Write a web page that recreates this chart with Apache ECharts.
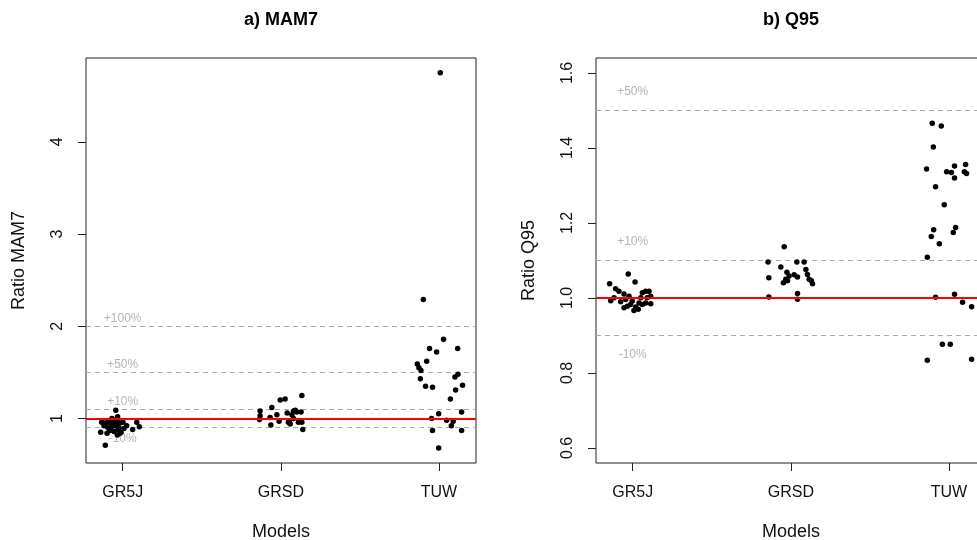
<!DOCTYPE html>
<html>
<head>
<meta charset="utf-8">
<script src="https://cdn.jsdelivr.net/npm/echarts@6/dist/echarts.min.js"></script>
<style>
  html, body { margin: 0; padding: 0; background: #fff; }
  #chart { width: 977px; height: 540px; }
</style>
</head>
<body>
<div id="chart"></div>
<script>
// Models on the horizontal axis
const models = ['GR5J', 'GRSD', 'TUW'];

// Panel a) MAM7 ratios per catchment, with the horizontal jitter of each dot
const mam7GR5J = [1.09, 1.02, 1.00, 0.96, 0.95, 0.96, 0.95, 0.96, 0.97, 0.95, 0.96, 0.92, 0.90, 0.91, 0.92, 0.90,
  0.87, 0.86, 0.88, 0.85, 0.92, 0.96, 0.91, 0.88, 0.85, 0.71, 0.82, 0.84, 0.84, 0.89, 0.99];
const mam7GR5JJitter = [-0.044, -0.032, -0.068, -0.133, -0.112, -0.093, -0.074, -0.055, -0.036, -0.017, 0.002, -0.118,
  -0.093, -0.068, -0.042, -0.023, -0.080, -0.055, -0.030, -0.011, 0.025, 0.089, 0.105, 0.063, -0.139, -0.110, -0.034,
  -0.017, -0.099, 0.008, -0.061];
const mam7GRSD = [1.25, 1.21, 1.20, 1.12, 1.08, 1.03, 0.99, 1.01, 1.04, 0.97, 0.93, 1.08, 1.07, 1.07, 1.04, 0.96,
  0.94, 0.96, 0.96, 0.88, 1.00, 1.06, 1.09, 0.97];
const mam7GRSDJitter = [0.133, 0.027, -0.004, -0.057, -0.131, -0.131, -0.135, -0.068, -0.025, -0.011, -0.063, 0.080,
  0.101, 0.128, 0.070, 0.048, 0.059, 0.111, 0.133, 0.139, 0.080, 0.040, 0.091, 0.053];
const mam7TUW = [2.29, 1.86, 1.76, 1.72, 1.76, 1.62, 1.59, 1.55, 1.52, 1.43, 1.35, 1.34, 1.48, 1.45, 1.36, 1.31,
  1.21, 1.05, 1.00, 1.07, 0.98, 0.97, 0.92, 0.87, 0.87, 0.68, 4.75];
const mam7TUWJitter = [-0.099, 0.029, -0.060, -0.015, 0.118, -0.078, -0.137, -0.127, -0.114, -0.118, -0.085, -0.041,
  0.120, 0.101, 0.149, 0.105, 0.072, -0.002, -0.047, 0.143, 0.048, 0.090, 0.078, -0.041, 0.143, -0.002, 0.008];

// Panel b) Q95 ratios per catchment, with jitter
const q95GR5J = [1.064, 1.038, 1.043, 1.025, 1.018, 0.993, 1.011, 1.005, 0.996, 0.974, 0.978, 0.983, 0.992, 0.976,
  0.970, 1.001, 1.014, 1.018, 1.018, 1.005, 1.001, 0.987, 0.985, 0.983, 0.987, 0.967, 0.990, 1.001];
const q95GR5JJitter = [-0.028, -0.146, 0.015, -0.108, -0.087, -0.139, -0.055, -0.023, -0.044, -0.055, -0.034, -0.013,
  -0.003, 0.019, 0.035, 0.051, 0.061, 0.082, 0.103, 0.114, 0.092, 0.082, 0.114, 0.061, 0.040, 0.008, -0.076, -0.118];
const q95GRSD = [1.137, 1.096, 1.096, 1.096, 1.083, 1.076, 1.054, 1.069, 1.059, 1.062, 1.056, 1.050, 1.041, 1.050,
  1.046, 1.038, 1.063, 1.003, 1.012, 0.997, 1.046];
const q95GRSDJitter = [-0.042, -0.144, 0.038, 0.084, -0.063, 0.095, -0.139, -0.025, -0.011, 0.021, 0.042, -0.032,
  -0.047, 0.116, 0.130, 0.137, 0.105, -0.139, 0.042, 0.042, -0.021];
const q95TUW = [1.466, 1.459, 1.403, 1.344, 1.352, 1.356, 1.337, 1.335, 1.320, 1.337, 1.332, 1.297, 1.249, 1.182,
  1.188, 1.175, 1.164, 1.145, 1.109, 1.002, 1.010, 0.989, 0.977, 0.877, 0.877, 0.834, 0.837];
const q95TUWJitter = [-0.106, -0.049, -0.099, -0.142, 0.035, 0.105, -0.015, 0.015, 0.035, 0.097, 0.111, -0.085,
  -0.030, -0.097, 0.042, 0.027, -0.112, -0.061, -0.137, -0.085, 0.035, 0.086, 0.143, -0.042, 0.008, -0.137, 0.143];

// Reference ratios (dashed) and their labels
const mam7RefLines = [0.9, 1.1, 1.5, 2.0];
const mam7RefTexts = ['-10%', '+10%', '+50%', '+100%'];
const mam7RefTextAt = [0.78, 1.18, 1.58, 2.08];
const q95RefLines = [0.9, 1.1, 1.5];
const q95RefTexts = ['-10%', '+10%', '+50%'];
const q95RefTextAt = [0.85, 1.15, 1.55];
const unityRatio = 1;

// Axis ticks
const mam7Ticks = [1, 2, 3, 4];
const q95Ticks = [0.6, 0.8, 1.0, 1.2, 1.4, 1.6];
const modelTicks = [1, 2, 3];

const FONT = '"Liberation Sans", Arial, sans-serif';
const AXIS_COLOR = '#222';

function pointsSeries(values, jitter, modelIdx, panel) {
  return {
    type: 'scatter',
    xAxisIndex: panel,
    yAxisIndex: panel,
    symbol: 'circle',
    symbolSize: 5.5,
    itemStyle: { color: '#000', opacity: 1 },
    silent: true,
    z: 3,
    data: values.map((v, i) => [modelIdx + 1 + jitter[i], v])
  };
}

function refSeries(panel, lines, texts, textAt) {
  return [
    {
      type: 'scatter',
      xAxisIndex: panel,
      yAxisIndex: panel,
      symbolSize: 0,
      silent: true,
      z: 2,
      data: texts.map((t, i) => ({ value: [1, textAt[i]], name: t })),
      label: {
        show: true,
        position: 'inside',
        formatter: p => p.name,
        color: '#a0a0a0',
        fontFamily: FONT,
        fontSize: 12
      },
      markLine: {
        silent: true,
        symbol: 'none',
        z: 1,
        label: { show: false },
        lineStyle: { color: '#aaaaaa', type: [5, 4], width: 1 },
        data: lines.map(v => ({ yAxis: v }))
      }
    },
    {
      type: 'scatter',
      xAxisIndex: panel,
      yAxisIndex: panel,
      symbolSize: 0,
      silent: true,
      z: 5,
      data: [],
      markLine: {
        silent: true,
        symbol: 'none',
        z: 5,
        label: { show: false },
        lineStyle: { color: '#ff0000', type: 'solid', width: 2 },
        data: [{ yAxis: unityRatio }]
      }
    }
  ];
}

function xAxisFor(panel, min, max) {
  return {
    gridIndex: panel,
    type: 'value',
    min: min,
    max: max,
    axisLine: { show: false },
    splitLine: { show: false },
    axisTick: { show: true, length: 8, customValues: modelTicks, lineStyle: { color: AXIS_COLOR } },
    axisLabel: {
      customValues: modelTicks,
      formatter: v => models[Math.round(v) - 1],
      margin: 22,
      fontSize: 16,
      fontFamily: FONT,
      color: '#111'
    },
    name: 'Models',
    nameLocation: 'middle',
    nameGap: 60,
    nameTextStyle: { fontSize: 18, fontFamily: FONT, color: '#111' }
  };
}

function yAxisFor(panel, min, max, ticks, name, fmt) {
  return {
    gridIndex: panel,
    type: 'value',
    min: min,
    max: max,
    axisLine: { show: false },
    splitLine: { show: false },
    axisTick: { show: true, length: 8, customValues: ticks, lineStyle: { color: AXIS_COLOR } },
    axisLabel: {
      customValues: ticks,
      rotate: 90,
      margin: 20,
      formatter: fmt,
      fontSize: 16,
      fontFamily: FONT,
      color: '#111'
    },
    name: name,
    nameLocation: 'middle',
    nameRotate: 90,
    nameGap: 58,
    nameTextStyle: { fontSize: 18, fontFamily: FONT, color: '#111' }
  };
}

const chart = echarts.init(document.getElementById('chart'), null, { renderer: 'canvas' });

chart.setOption({
  backgroundColor: '#fff',
  animation: false,
  title: [
    { text: 'a) MAM7', left: 276, top: 6, textAlign: 'center',
      textStyle: { fontSize: 18, fontWeight: 'bold', fontFamily: FONT, color: '#000' } },
    { text: 'b) Q95', left: 786, top: 6, textAlign: 'center',
      textStyle: { fontSize: 18, fontWeight: 'bold', fontFamily: FONT, color: '#000' } }
  ],
  grid: [
    { left: 86, top: 58, width: 390, height: 405, outerBoundsMode: 'none', containLabel: false,
      show: true, borderColor: AXIS_COLOR, borderWidth: 1, backgroundColor: 'transparent' },
    { left: 596, top: 58, width: 390, height: 405, outerBoundsMode: 'none', containLabel: false,
      show: true, borderColor: AXIS_COLOR, borderWidth: 1, backgroundColor: 'transparent' }
  ],
  xAxis: [xAxisFor(0, 0.768, 3.234), xAxisFor(1, 0.768, 3.234)],
  yAxis: [
    yAxisFor(0, 0.517, 4.91, mam7Ticks, 'Ratio MAM7', v => String(Math.round(v))),
    yAxisFor(1, 0.56, 1.64, q95Ticks, 'Ratio Q95', v => v.toFixed(1))
  ],
  series: [
    ...refSeries(0, mam7RefLines, mam7RefTexts, mam7RefTextAt),
    ...refSeries(1, q95RefLines, q95RefTexts, q95RefTextAt),
    pointsSeries(mam7GR5J, mam7GR5JJitter, 0, 0),
    pointsSeries(mam7GRSD, mam7GRSDJitter, 1, 0),
    pointsSeries(mam7TUW, mam7TUWJitter, 2, 0),
    pointsSeries(q95GR5J, q95GR5JJitter, 0, 1),
    pointsSeries(q95GRSD, q95GRSDJitter, 1, 1),
    pointsSeries(q95TUW, q95TUWJitter, 2, 1)
  ]
});
</script>
</body>
</html>
